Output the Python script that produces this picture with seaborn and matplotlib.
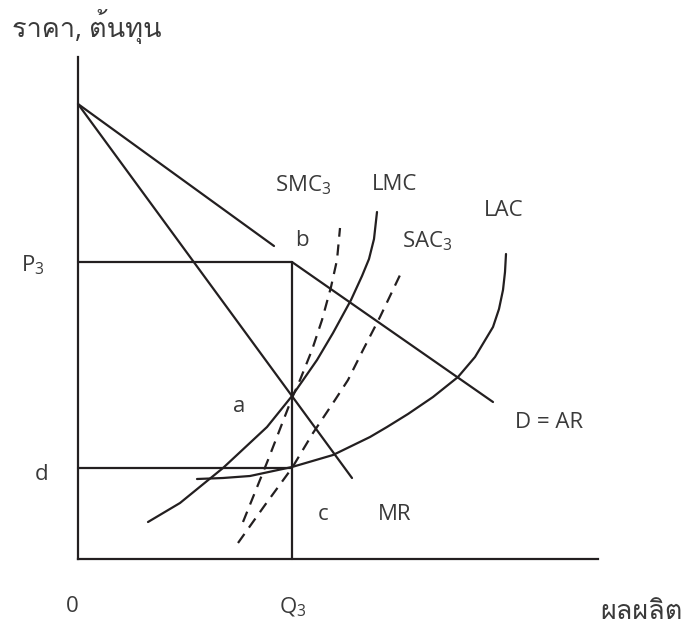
import matplotlib
matplotlib.use('Agg')
import matplotlib.pyplot as plt
import seaborn as sns
from matplotlib import font_manager
from matplotlib.ft2font import FT2Font

# data in diagram units (quantity, price)
p3 = 297
d_level = 91
q3 = 214

demand_upper_q = [0, 196]
demand_upper_p = [455, 313]
demand_lower_q = [214, 415]
demand_lower_p = [297, 157]

mr_q = [0, 274]
mr_p = [455, 81]

lmc_q = [70, 102, 145, 189, 214, 239, 255, 273, 284, 291, 296, 299]
lmc_p = [37, 56, 91, 132, 163, 199, 226, 259, 283, 300, 320, 347]

smc_q = [165, 190, 214, 222, 234, 244, 253, 259, 262]
smc_p = [37, 99, 161, 179, 209, 239, 272, 299, 331]

sac_q = [160, 187, 214, 235, 257, 270, 285, 302, 323]
sac_p = [16, 54, 91, 126, 159, 179, 209, 242, 286]

lac_q = [119, 145, 172, 214, 255, 292, 309, 330, 355, 380, 397, 415, 421, 425, 427, 428]
lac_p = [80, 81, 83, 92, 104, 122, 132, 145, 162, 182, 202, 232, 250, 269, 287, 305]


def thai_font():
    # find an installed family that has Thai glyphs
    for f in font_manager.fontManager.ttflist:
        try:
            if 0x0E23 in FT2Font(f.fname).get_charmap():
                return f.name
        except Exception:
            pass
    return None


sns.set_theme(style='white')
th = thai_font()
families = ['Open Sans'] + ([th] if th else []) + ['DejaVu Sans']
plt.rcParams['font.family'] = families
plt.rcParams['mathtext.fontset'] = 'custom'
plt.rcParams['mathtext.rm'] = 'Open Sans'
plt.rcParams['mathtext.default'] = 'regular'

ink = '#231f20'
txt = '#3a3a3a'
lw = 1.6
fs = 16

fig = plt.figure(figsize=(6.84, 6.28), dpi=100)
ax = fig.add_axes([0, 0, 1, 1])

for s in ['top', 'right']:
    ax.spines[s].set_visible(False)
ax.spines['left'].set_position(('data', 0))
ax.spines['bottom'].set_position(('data', 0))
ax.spines['left'].set_bounds(0, 502)
ax.spines['bottom'].set_bounds(0, 520)
for s in ['left', 'bottom']:
    ax.spines[s].set_color(ink)
    ax.spines[s].set_linewidth(lw)

solid = dict(color=ink, lw=lw, sort=False, estimator=None, ax=ax, legend=False)
sns.lineplot(x=demand_upper_q, y=demand_upper_p, **solid)
sns.lineplot(x=demand_lower_q, y=demand_lower_p, **solid)
sns.lineplot(x=mr_q, y=mr_p, **solid)
sns.lineplot(x=lmc_q, y=lmc_p, **solid)
sns.lineplot(x=lac_q, y=lac_p, **solid)
sns.lineplot(x=[0, q3], y=[p3, p3], **solid)
sns.lineplot(x=[0, q3], y=[d_level, d_level], **solid)
sns.lineplot(x=[q3, q3], y=[0, p3], **solid)

dashed = dict(solid, linestyle=(0, (5, 3.5)))
sns.lineplot(x=smc_q, y=smc_p, **dashed)
sns.lineplot(x=sac_q, y=sac_p, **dashed)

ax.set_xlim(-78, 606)
ax.set_ylim(-69, 559)
ax.set_xticks([])
ax.set_yticks([])
ax.set_xlabel('')
ax.set_ylabel('')

labels = [
    ('P$_3$', -45, 294),
    ('d', -36, 84),
    ('0', -6, -48),
    ('Q$_3$', 215, -48),
    ('a', 161, 152),
    ('b', 224, 319),
    ('c', 245, 44),
    ('MR', 317, 45),
    ('D = AR', 471, 137),
    ('SMC$_3$', 225, 374),
    ('LMC', 317, 375),
    ('SAC$_3$', 349, 318),
    ('LAC', 426, 348),
]
for t, x, y in labels:
    ax.text(x, y, t, ha='center', va='center', fontsize=fs, color=txt)

ax.text(-66, 532, 'ราคา, ต้นทุน', ha='left', va='center', fontsize=19.5, color=txt)
ax.text(563, -53, 'ผลผลิต', ha='center', va='center', fontsize=19.5, color=txt)

fig.savefig('out.png', dpi=100)
